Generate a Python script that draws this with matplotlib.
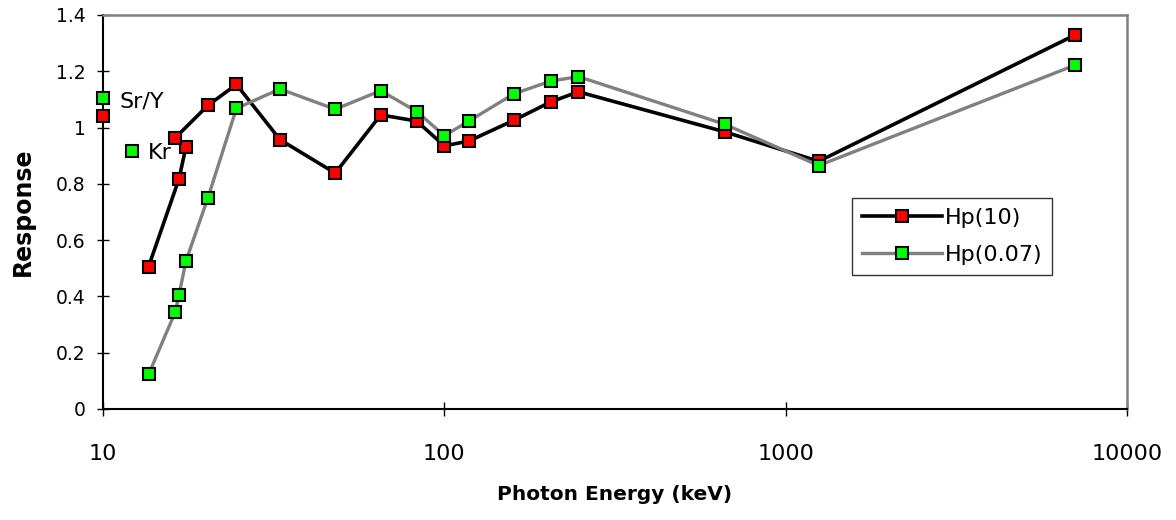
import numpy as np
import matplotlib
matplotlib.use("Agg")
import matplotlib.pyplot as plt
from matplotlib.ticker import FixedLocator, NullLocator

# photon energies (keV) and responses
energy_hp10 = [13.6, 16.7, 17.5, 16.3, 20.3, 24.6, 33.0, 47.9, 65.1, 83.0, 100, 118, 160, 205, 247, 662, 1250, 7050]
resp_hp10 = [0.506, 0.818, 0.932, 0.964, 1.079, 1.153, 0.957, 0.838, 1.045, 1.023, 0.935, 0.952, 1.026, 1.091, 1.127, 0.985, 0.880, 1.329]

energy_hp007 = [13.6, 16.3, 16.7, 17.5, 20.3, 24.6, 33.0, 47.9, 65.1, 83.0, 100, 118, 160, 205, 247, 662, 1250, 7050]
resp_hp007 = [0.123, 0.346, 0.406, 0.526, 0.751, 1.068, 1.137, 1.065, 1.131, 1.057, 0.971, 1.023, 1.120, 1.165, 1.181, 1.012, 0.865, 1.222]

# isotope sources shown as single points
srY_energy = 10.0
srY_hp10 = 1.040
srY_hp007 = 1.104
kr_energy = 12.2
kr_hp007 = 0.918

x_ticks = [10, 100, 1000, 10000]
x_tick_labels = ["10", "100", "1000", "10000"]
y_ticks = [0, 0.2, 0.4, 0.6, 0.8, 1.0, 1.2, 1.4]
y_tick_labels = ["0", "0.2", "0.4", "0.6", "0.8", "1", "1.2", "1.4"]

plt.rcParams['font.family'] = ['DejaVu Sans']

fig = plt.figure(figsize=(11.76, 5.2), dpi=100)
ax = fig.add_axes([0.0876, 0.2135, 0.8707, 0.7577])

mk = dict(marker='s', markersize=8.8, markeredgecolor='black', markeredgewidth=1.5)
ax.plot(energy_hp10, resp_hp10, color='black', lw=2.6, markerfacecolor='#ff0000',
        label='Hp(10)', clip_on=False, **mk)
ax.plot(energy_hp007, resp_hp007, color='#808080', lw=2.4, markerfacecolor='#00ff00',
        label='Hp(0.07)', clip_on=False, **mk)

ax.plot([srY_energy], [srY_hp10], ls='none', markerfacecolor='#ff0000', clip_on=False, zorder=4, **mk)
ax.plot([srY_energy, kr_energy], [srY_hp007, kr_hp007], ls='none', markerfacecolor='#00ff00',
        clip_on=False, zorder=4, **mk)
ax.text(11.2, 1.091, "Sr/Y", fontsize=16, va='center', ha='left')
ax.text(13.5, 0.911, "Kr", fontsize=16, va='center', ha='left')

ax.set_xscale('log')
ax.set_xlim(10, 10000)
ax.set_ylim(0, 1.4)
ax.xaxis.set_major_locator(FixedLocator(x_ticks))
ax.xaxis.set_minor_locator(NullLocator())
ax.set_xticklabels(x_tick_labels)
ax.set_yticks(y_ticks)
ax.set_yticklabels(y_tick_labels)

ax.tick_params(axis='x', direction='inout', length=10, width=1, labelsize=16, pad=20)
ax.tick_params(axis='y', direction='inout', length=9, width=1, labelsize=13.5, pad=8)

for side in ['left', 'bottom']:
    ax.spines[side].set_color('black')
    ax.spines[side].set_linewidth(1.5)
for side in ['top', 'right']:
    ax.spines[side].set_color('#808080')
    ax.spines[side].set_linewidth(1.8)

ax.set_xlabel('Photon Energy (keV)', fontsize=14.5, fontweight='bold', labelpad=15)
ax.set_ylabel('Response', fontsize=17, fontweight='bold', labelpad=15)

leg = ax.legend(loc='upper left', bbox_to_anchor=(0.731, 0.535), fontsize=16,
                frameon=True, fancybox=False, handlelength=3.6, handletextpad=0.15,
                borderpad=0.45, labelspacing=0.75, borderaxespad=0)
leg.get_frame().set_edgecolor('black')
leg.get_frame().set_linewidth(1.0)

fig.savefig('out.png', dpi=100)
